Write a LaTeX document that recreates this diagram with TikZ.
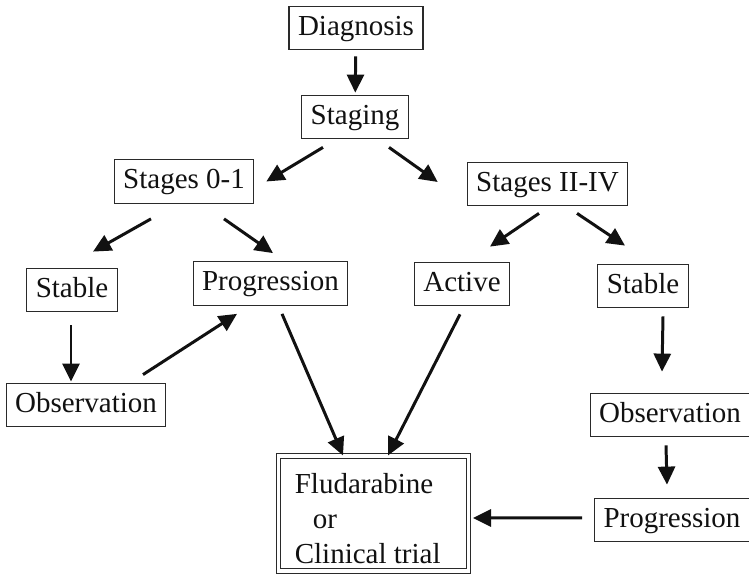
\documentclass[tikz,border=0pt]{standalone}
\usepackage{fontspec}
\setmainfont{Liberation Serif}
\usepackage{tikz}
\usetikzlibrary{arrows.meta}
\definecolor{clInk}{HTML}{111111}
\definecolor{clLine}{HTML}{2A2A2A}
\tikzset{
  cl diagram/.style={font=\fontsize{16.5}{19.8}\selectfont, text=clInk},
  cl box/.style={draw=clLine, fill=white, line width=0.6pt,
    inner xsep=0.18cm, inner ysep=0.17cm, text height=11.6pt, text depth=3.6pt},
  cl final box/.style={draw=clLine, double=white, double distance=1.8pt,
    line width=0.6pt, align=left, minimum width=3.8cm, minimum height=2.3cm},
  cl arrow/.style={-{Triangle[length=0.36cm,width=0.34cm]}, draw=clInk, line width=1.7pt}
}
\begin{document}
\begin{tikzpicture}[cl diagram]
\useasboundingbox (0,0) rectangle (14.98,11.56);
% boxes
\node[cl box] (diag) at (7.12,11.0) {Diagnosis};
\node[cl box] (stag) at (7.10,9.22) {Staging};
\node[cl box] (s01) at (3.68,7.93) {Stages 0-1};
\node[cl box] (s24) at (10.95,7.88) {Stages II-IV};
\node[cl box] (stabL) at (1.44,5.76) {Stable};
\node[cl box] (progL) at (5.41,5.89) {Progression};
\node[cl box] (act) at (9.24,5.88) {Active};
\node[cl box] (stabR) at (12.86,5.84) {Stable};
\node[cl box] (obsL) at (1.72,3.46) {Observation};
\node[cl box] (obsR) at (13.40,3.26) {Observation};
\node[cl box] (progR) at (13.44,1.16) {Progression};
% the rule pushes the three lines a little lower in the box
\node[cl final box] (flud) at (7.47,1.29)
  {\rule{0pt}{1.05em}Fludarabine\\\hspace*{0.62em}or\\Clinical trial\hspace*{0.4em}};
% arrows
\draw[cl arrow, shorten <=0.12cm, shorten >=0.04cm] (diag) -- (stag);
\draw[cl arrow] ([shift={(-0.64,-0.16)}]stag.south) -- ([shift={(0.24,0)}]s01.east);
\draw[cl arrow] ([shift={(0.68,-0.16)}]stag.south) -- ([shift={(-0.58,0.04)}]s24.west);
\draw[cl arrow] ([shift={(-0.66,-0.30)}]s01.south) -- ([shift={(0.42,0.32)}]stabL.north);
\draw[cl arrow] ([shift={(0.80,-0.30)}]s01.south) -- ([shift={(0.05,0.16)}]progL.north);
\draw[cl arrow] ([shift={(-0.17,-0.14)}]s24.south) -- ([shift={(0.56,0.30)}]act.north);
\draw[cl arrow] ([shift={(0.59,-0.14)}]s24.south) -- ([shift={(-0.36,0.36)}]stabR.north);
\draw[cl arrow] ([shift={(-0.02,-0.26)}]stabL.south) -- ([shift={(-0.30,0.02)}]obsL.north);
\draw[cl arrow] ([shift={(1.14,0.16)}]obsL.north) -- ([shift={(-0.67,-0.16)}]progL.south);
\draw[cl arrow] ([shift={(0.23,-0.16)}]progL.south) -- ([shift={(-0.61,0)}]flud.north);
\draw[cl arrow] ([shift={(-0.04,-0.16)}]act.south) -- ([shift={(0.29,0)}]flud.north);
\draw[cl arrow] ([shift={(0.40,-0.16)}]stabR.south) -- ([shift={(-0.16,0.42)}]obsR.north);
\draw[cl arrow] ([shift={(-0.08,-0.16)}]obsR.south) -- ([shift={(-0.10,0.26)}]progR.north);
\draw[cl arrow] ([shift={(-0.24,0.04)}]progR.west) -- ([shift={(0.08,-0.09)}]flud.east);
\end{tikzpicture}
\end{document}
